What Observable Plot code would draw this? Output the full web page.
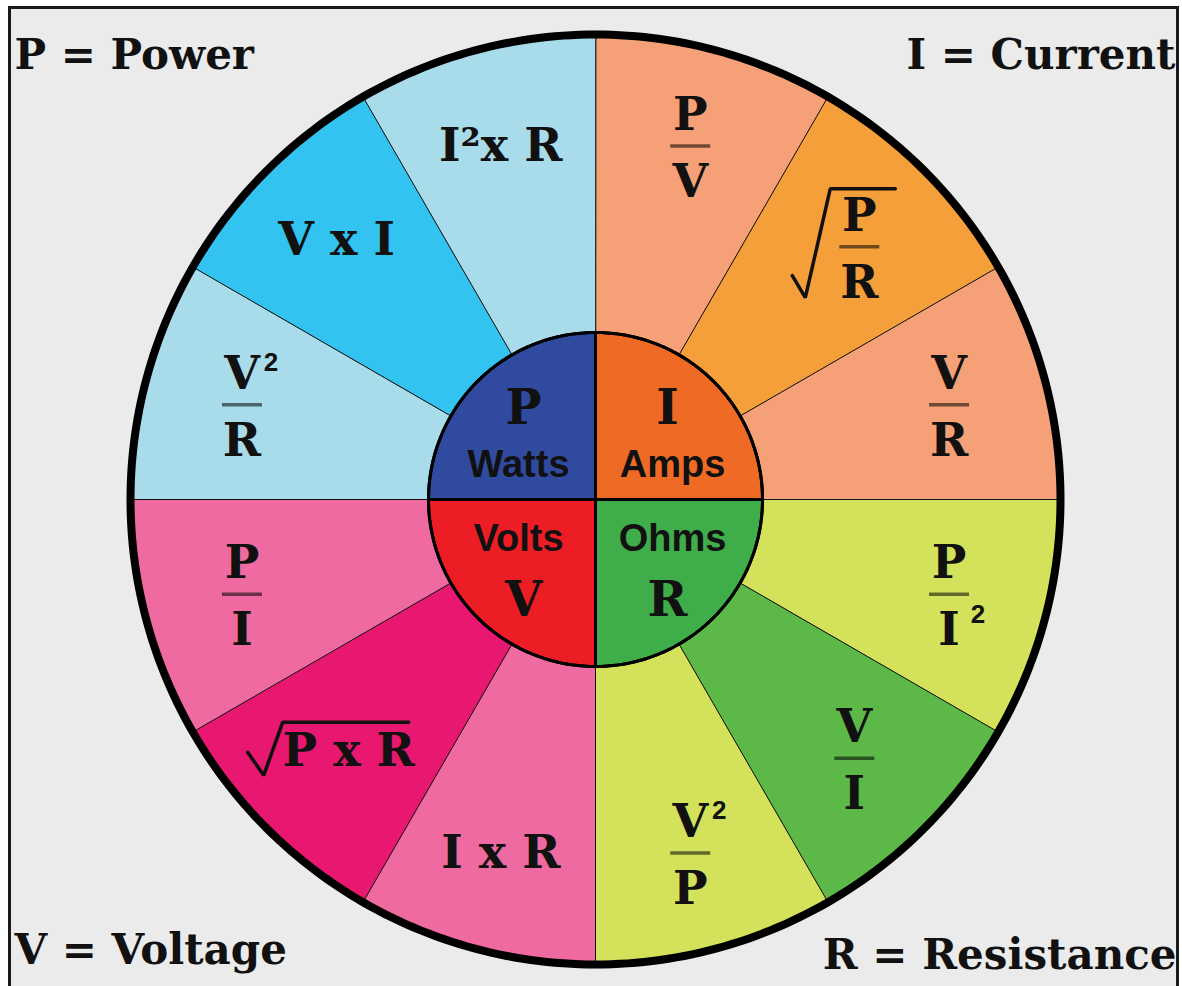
<!DOCTYPE html>
<html>
<head>
<meta charset="utf-8">
<script src="https://cdn.jsdelivr.net/npm/d3@7"></script>
<script src="https://cdn.jsdelivr.net/npm/@observablehq/plot@0.6"></script>
<style>
  html, body { margin: 0; padding: 0; background: #fff; }
</style>
</head>
<body>
<div id="chart"></div>
<script>
// ---- data ----
// outer wedges, clockwise from 12 o'clock (30° each)
const formulas = ["P/V", "√P/R", "V/R", "P/I^2", "V/I", "V^2/P", "I x R", "√P x R", "P/I", "V^2/R", "V x I", "I²x R"];
const wedgeColors = ["#f5a077", "#f59f3a", "#f5a077", "#d4e25b", "#5db947", "#d4e25b", "#ef6aa0", "#e8176f", "#ef6aa0", "#a9dcea", "#33c3f0", "#a9dcea"];
// inner quarters, clockwise from 12 o'clock
const innerSymbols = ["I", "R", "V", "P"];
const innerUnits = ["Amps", "Ohms", "Volts", "Watts"];
const innerColors = ["#ef6a24", "#3fad49", "#ec1d25", "#2f4a9f"];
// corner legend
const cornerLabels = ["P = Power", "I = Current", "V = Voltage", "R = Resistance"];

// ---- layout ----
const W = 1182, H = 986;
const CX = 595, CY = 499;
const R = 465, RIN = 167, LR = 366;
const deg = Math.PI / 180;
const polar = (r, a) => ({x: r * Math.sin(a * deg), y: -r * Math.cos(a * deg)});
const serif = "'DejaVu Serif', 'Liberation Serif', serif";
const sans = "'Liberation Sans', Arial, sans-serif";

const wedgePts = formulas.flatMap((f, i) => {
  const pts = [{i, x: 0, y: 0}];
  for (let a = i * 30; a <= (i + 1) * 30; a += 1) pts.push({i, ...polar(R, a)});
  return pts;
});
const innerPts = innerSymbols.flatMap((s, q) => {
  const pts = [{q, x: 0, y: 0}];
  for (let a = q * 90; a <= (q + 1) * 90; a += 1) pts.push({q, ...polar(RIN, a)});
  return pts;
});
const circle = r => d3.range(0, 361, 1).map(a => polar(r, a));

// formula typesetting
const fracTexts = [], inlineTexts = [], supTexts = [], bars = [], radicals = [];
const fracRoot = [[-67, 29], [-54, 51], [-29, -58], [36, -58]];
const inlineRoot = [[-101, 1], [-85, 24], [-66, -29], [60, -29]];
formulas.forEach((f, i) => {
  const anc = polar(LR, (i + 0.5) * 30);
  const root = f.startsWith("√");
  const body = root ? f.slice(1) : f;
  const barColor = d3.color(wedgeColors[i]).darker(2.2).formatHex();
  if (body.includes("/")) {
    const [num, den] = body.split("/");
    const cx = anc.x + (root ? 5 : 0), cy = anc.y + (root ? 6 : 0);
    const parts = [[num, cy - 16, -18], [den, cy + 51, -22]];
    for (const [p, base, supDy] of parts) {
      const sup = p.endsWith("^2");
      const main = sup ? p.slice(0, -2) : p;
      fracTexts.push({x: cx, y: base, text: main});
      if (sup) supTexts.push({x: cx + 29, y: base + supDy, text: "2"});
    }
    bars.push({x1: cx - 20, x2: cx + 20, y: cy, color: barColor});
    if (root) fracRoot.forEach(([dx, dy]) => radicals.push({i, x: cx + dx, y: cy + dy}));
  } else {
    const cx = anc.x + (root ? 12 : 0), cy = anc.y + (root ? -7 : 0);
    inlineTexts.push({x: cx, y: cy, text: body});
    if (root) inlineRoot.forEach(([dx, dy]) => radicals.push({i, x: cx + dx, y: cy + dy}));
  }
});

const innerSym = innerSymbols.map((s, q) => {
  const sx = q < 2 ? 1 : -1, top = q === 0 || q === 3;
  return {x: sx * 72, y: top ? -76 : 116, text: s};
});
const innerUnit = innerUnits.map((u, q) => {
  const sx = q < 2 ? 1 : -1, top = q === 0 || q === 3;
  return {x: sx * 77, y: top ? -23 : 51, text: u};
});

const txt = {fontFamily: serif, fontWeight: "bold", fill: "#111"};

const plot = Plot.plot({
  width: W, height: H,
  marginTop: 7, marginLeft: 9, marginRight: 5, marginBottom: 0,
  x: {domain: [-CX, W - CX], range: [0, W], axis: null},
  y: {domain: [-CY, H - CY], range: [0, H], axis: null},
  color: {type: "identity"},
  style: {background: "#fff", overflow: "hidden"},
  marks: [
    Plot.frame({fill: "#ebebeb", stroke: "#1a1a1a", strokeWidth: 3, insetBottom: -10}),
    Plot.line(wedgePts, {x: "x", y: "y", z: "i", fill: d => wedgeColors[d.i], stroke: "#111", strokeWidth: 1, curve: "linear-closed"}),
    Plot.line(circle(R), {x: "x", y: "y", stroke: "#000", strokeWidth: 8, curve: "linear-closed"}),
    Plot.line(innerPts, {x: "x", y: "y", z: "q", fill: d => innerColors[d.q], stroke: "#000", strokeWidth: 3, curve: "linear-closed"}),
    Plot.line(circle(RIN), {x: "x", y: "y", stroke: "#000", strokeWidth: 3, curve: "linear-closed"}),
    // formulas
    Plot.text(fracTexts, {x: "x", y: "y", text: "text", lineAnchor: "bottom", fontSize: 46, ...txt}),
    Plot.text(inlineTexts, {x: "x", y: "y", text: "text", lineAnchor: "middle", fontSize: 46, ...txt}),
    Plot.text(supTexts, {x: "x", y: "y", text: "text", lineAnchor: "bottom", fontSize: 26, fontFamily: sans, fontWeight: "bold", fill: "#111"}),
    Plot.link(bars, {x1: "x1", x2: "x2", y1: "y", y2: "y", stroke: "color", strokeWidth: 3.5}),
    Plot.line(radicals, {x: "x", y: "y", z: "i", stroke: "#111", strokeWidth: 3.5, strokeLinejoin: "miter"}),
    // inner circle labels
    Plot.text(innerSym, {x: "x", y: "y", text: "text", lineAnchor: "bottom", fontSize: 48, ...txt}),
    Plot.text(innerUnit, {x: "x", y: "y", text: "text", lineAnchor: "bottom", fontSize: 38, fontFamily: sans, fontWeight: "bold", fill: "#111"}),
    // corner legend
    Plot.text([cornerLabels[0]], {text: d => d, frameAnchor: "top-left", textAnchor: "start", lineAnchor: "bottom", dx: 5, dy: 61, fontSize: 42, ...txt}),
    Plot.text([cornerLabels[1]], {text: d => d, frameAnchor: "top-right", textAnchor: "end", lineAnchor: "bottom", dx: -2, dy: 61, fontSize: 42, ...txt}),
    Plot.text([cornerLabels[2]], {text: d => d, frameAnchor: "bottom-left", textAnchor: "start", lineAnchor: "bottom", dx: 5, dy: -23, fontSize: 42, ...txt}),
    Plot.text([cornerLabels[3]], {text: d => d, frameAnchor: "bottom-right", textAnchor: "end", lineAnchor: "bottom", dx: -1, dy: -18, fontSize: 42, ...txt})
  ]
});
document.getElementById("chart").appendChild(plot);
</script>
</body>
</html>
